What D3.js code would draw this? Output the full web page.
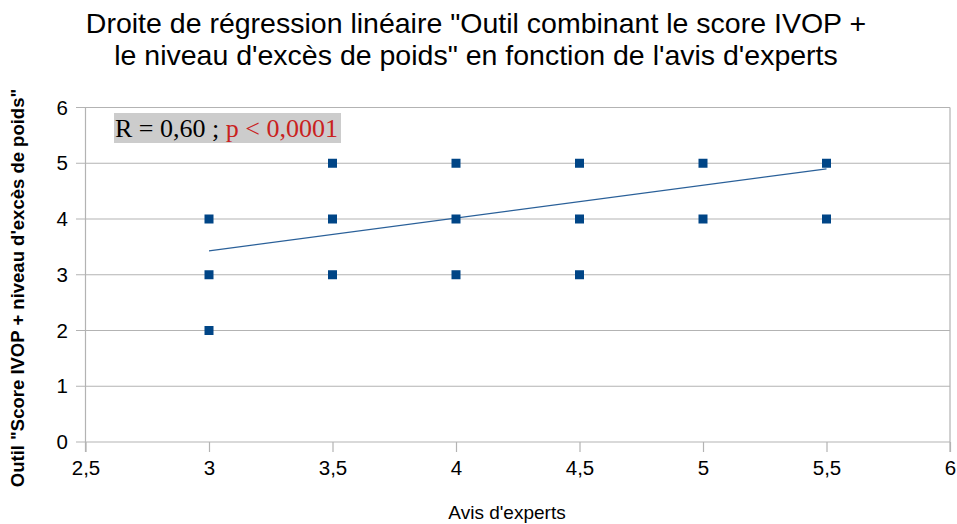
<!DOCTYPE html>
<html><head><meta charset="utf-8">
<script src="https://cdn.jsdelivr.net/npm/d3@7"></script>
<style>body{margin:0;background:#fff}svg{display:block}</style>
</head><body>
<svg id="c" width="957" height="524"></svg>
<script>
const titleLines = ["Droite de régression linéaire \"Outil combinant le score IVOP +", "le niveau d'excès de poids\" en fonction de l'avis d'experts"];
const xLabel = "Avis d'experts";
const yLabel = "Outil \"Score IVOP + niveau d'excès de poids\"";
const xTicks = [2.5, 3, 3.5, 4, 4.5, 5, 5.5, 6];
const yTicks = [0, 1, 2, 3, 4, 5, 6];
const pointsX = [3, 3, 3, 3.5, 3.5, 3.5, 4, 4, 4, 4.5, 4.5, 4.5, 5, 5, 5.5, 5.5];
const pointsY = [4, 3, 2, 5, 4, 3, 5, 4, 3, 5, 4, 3, 5, 4, 5, 4];
const trendX = [3, 5.5];
const trendY = [3.43, 4.90];
const annoBlack = "R = 0,60 ; ";
const annoRed = "p < 0,0001";

const svg = d3.select("#c");
const x = d3.scaleLinear().domain([2.5, 6]).range([85.5, 950]);
const y = d3.scaleLinear().domain([0, 6]).range([442, 107.5]);
const fmt = d => String(d).replace(".", ",");

// gridlines
svg.append("g").selectAll("line").data(yTicks).join("line")
  .attr("x1", 76).attr("x2", 950)
  .attr("y1", d => y(d)).attr("y2", d => y(d))
  .attr("stroke", "#b3b3b3").attr("stroke-width", 1.2);
// left & right frame
svg.append("line").attr("x1", x(2.5)).attr("x2", x(2.5)).attr("y1", y(6)).attr("y2", y(0) + 10)
  .attr("stroke", "#b3b3b3").attr("stroke-width", 1.2);
svg.append("line").attr("x1", x(6)).attr("x2", x(6)).attr("y1", y(6)).attr("y2", y(0) + 10)
  .attr("stroke", "#b3b3b3").attr("stroke-width", 1.2);

// x axis
const xa = svg.append("g").attr("transform", `translate(0,${y(0)})`)
  .call(d3.axisBottom(x).tickValues(xTicks).tickFormat(fmt).tickSize(10).tickPadding(8));
xa.select(".domain").remove();
xa.selectAll(".tick line").attr("stroke", "#b3b3b3").attr("stroke-width", 1.2);
xa.selectAll(".tick text").attr("font-family", "Liberation Sans, Arial, sans-serif").attr("font-size", 20.5).attr("fill", "#000");

// y axis
const ya = svg.append("g").attr("transform", `translate(76,0)`)
  .call(d3.axisLeft(y).tickValues(yTicks).tickFormat(fmt).tickSize(0).tickPadding(8));
ya.select(".domain").remove();
ya.selectAll(".tick text").attr("font-family", "Liberation Sans, Arial, sans-serif").attr("font-size", 20.5).attr("fill", "#000");

// trend line
svg.append("path").datum(d3.zip(trendX, trendY))
  .attr("d", d3.line().x(d => x(d[0])).y(d => y(d[1])))
  .attr("stroke", "#2a6099").attr("stroke-width", 1.3).attr("fill", "none");

// points
svg.append("g").selectAll("rect").data(d3.zip(pointsX, pointsY)).join("rect")
  .attr("x", d => x(d[0]) - 4.5).attr("y", d => y(d[1]) - 4.5)
  .attr("width", 9).attr("height", 9).attr("fill", "#004586");

// title
svg.append("g").selectAll("text").data(titleLines).join("text")
  .attr("x", 476).attr("y", (d, i) => 33 + i * 32)
  .attr("text-anchor", "middle")
  .attr("font-family", "Liberation Sans Narrow, Arial Narrow, sans-serif")
  .attr("font-size", 28.5).attr("fill", "#000").text(d => d);

// axis titles
svg.append("text").attr("x", 507).attr("y", 519).attr("text-anchor", "middle")
  .attr("font-family", "Liberation Sans, Arial, sans-serif").attr("font-size", 19).text(xLabel);
svg.append("text").attr("transform", "translate(24,288) rotate(-90)").attr("text-anchor", "middle")
  .attr("font-family", "Liberation Sans, Arial, sans-serif").attr("font-size", 18.5).attr("font-weight", "bold").text(yLabel);

// annotation
svg.append("rect").attr("x", 114).attr("y", 113).attr("width", 227).attr("height", 30).attr("fill", "#cccccc");
const at = svg.append("text").attr("x", 115).attr("y", 137)
  .attr("font-family", "Liberation Serif, Times New Roman, serif").attr("font-size", 26);
at.append("tspan").attr("fill", "#000").text(annoBlack);
at.append("tspan").attr("fill", "#c9211e").text(annoRed);
</script>
</body></html>
